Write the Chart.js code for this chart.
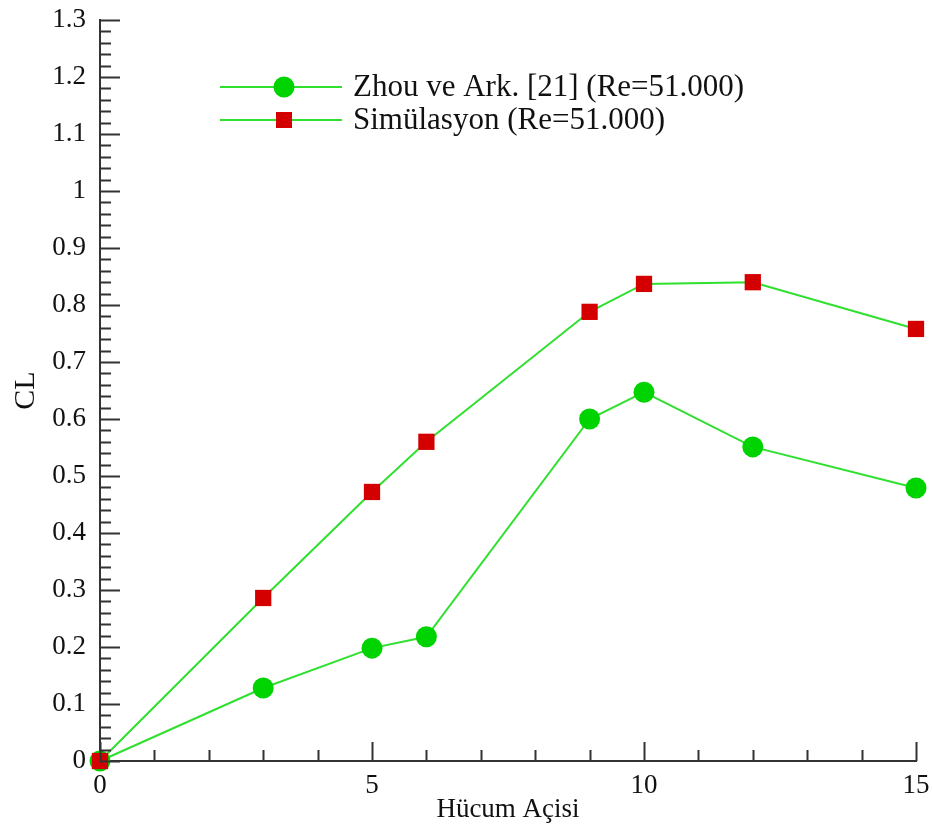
<!DOCTYPE html>
<html>
<head>
<meta charset="utf-8">
<script src="https://cdn.jsdelivr.net/npm/chart.js@4.4.1/dist/chart.umd.min.js"></script>
<style>
  html, body { margin: 0; padding: 0; background: #fff; }
  #wrap { width: 933px; height: 830px; }
</style>
</head>
<body>
<div id="wrap"><canvas id="clChart" width="933" height="830"></canvas></div>
<script>
// angle of attack (deg) and lift coefficient for both series
const angles = [0, 3, 5, 6, 9, 10, 12, 15];
const zhouCL = [0, 0.128, 0.198, 0.218, 0.6, 0.647, 0.551, 0.479];
const simCL = [0, 0.286, 0.472, 0.56, 0.788, 0.837, 0.84, 0.758];
const seriesNames = ['Zhou ve Ark. [21] (Re=51.000)', 'Simülasyon (Re=51.000)'];

const lineGreen = '#2fe02f';
const dotGreen = '#00d400';
const boxRed = '#d40000';
const axisColor = '#333333';
const serif = '"Liberation Serif", "Times New Roman", serif';

function pts(ys) {
  return angles.map((a, i) => ({ x: a, y: ys[i] }));
}

// inward ticks: major + minor, drawn on the axis scales
const innerTicks = {
  id: 'innerTicks',
  afterDraw(chart) {
    const c = chart.ctx;
    const xs = chart.scales.x, ys = chart.scales.y;
    const area = chart.chartArea;
    c.save();
    c.strokeStyle = axisColor;
    c.lineWidth = 2;
    c.beginPath();
    for (let v = 0; v <= 15; v++) {
      const px = Math.round(xs.getPixelForValue(v)) + 0.5;
      const len = v % 5 === 0 ? 19 : 11;
      c.moveTo(px, area.bottom);
      c.lineTo(px, area.bottom - len);
    }
    for (let k = 0; k <= 65; k++) {
      const py = Math.round(ys.getPixelForValue(k * 0.02)) + 0.5;
      const len = k % 5 === 0 ? 20 : 11;
      c.moveTo(area.left, py);
      c.lineTo(area.left + len, py);
    }
    c.stroke();
    c.restore();
  }
};

// legend box inside the plot
const innerLegend = {
  id: 'innerLegend',
  afterDraw(chart) {
    const c = chart.ctx;
    const rows = [
      { y: 87, shape: 'circle', fill: dotGreen },
      { y: 120, shape: 'rect', fill: boxRed }
    ];
    c.save();
    rows.forEach((r, i) => {
      c.strokeStyle = lineGreen;
      c.lineWidth = 2;
      c.beginPath();
      c.moveTo(220, r.y);
      c.lineTo(342, r.y);
      c.stroke();
      c.fillStyle = r.fill;
      if (r.shape === 'circle') {
        c.beginPath();
        c.arc(284, r.y, 10.5, 0, Math.PI * 2);
        c.fill();
      } else {
        c.fillRect(276, r.y - 8, 16, 16);
      }
      c.fillStyle = '#111';
      c.font = '31px ' + serif;
      c.textBaseline = 'middle';
      c.fillText(seriesNames[i], 353, r.y + 1);
    });
    c.restore();
  }
};

const ctx = document.getElementById('clChart');

new Chart(ctx, {
  type: 'line',
  data: {
    datasets: [{
      label: seriesNames[0],
      data: pts(zhouCL),
      borderColor: lineGreen,
      borderWidth: 2,
      backgroundColor: dotGreen,
      pointBackgroundColor: dotGreen,
      pointBorderWidth: 0,
      pointRadius: 10.5,
      pointStyle: 'circle',
      clip: false,
      order: 2
    }, {
      label: seriesNames[1],
      data: pts(simCL),
      borderColor: lineGreen,
      borderWidth: 2,
      backgroundColor: boxRed,
      pointBackgroundColor: boxRed,
      pointBorderWidth: 0,
      pointRadius: 11.5,
      pointStyle: 'rect',
      clip: false,
      order: 1
    }]
  },
  options: {
    responsive: false,
    animation: false,
    events: [],
    layout: { padding: { top: 20, right: 17, left: 0, bottom: 0 } },
    plugins: {
      legend: { display: false },
      tooltip: { enabled: false }
    },
    scales: {
      x: {
        type: 'linear',
        min: 0,
        max: 15,
        afterFit(scale) {
          scale.height = 69;
          scale.paddingLeft = 0;
          scale.paddingRight = 0;
        },
        grid: { display: false, drawTicks: false },
        border: { display: true, color: axisColor, width: 2 },
        ticks: {
          stepSize: 5,
          padding: 9,
          color: '#111',
          font: { family: serif, size: 27 }
        },
        title: {
          display: true,
          text: 'Hücum Açisi',
          color: '#111',
          font: { family: serif, size: 27 },
          padding: { top: 0, bottom: 4 }
        }
      },
      y: {
        type: 'linear',
        min: 0,
        max: 1.3,
        afterFit(scale) {
          scale.width = 100;
          scale.paddingTop = 0;
          scale.paddingBottom = 0;
        },
        grid: { display: false, drawTicks: false },
        border: { display: true, color: axisColor, width: 2 },
        ticks: {
          stepSize: 0.1,
          padding: 14,
          color: '#111',
          font: { family: serif, size: 27 },
          callback: v => String(Number(v.toFixed(2)))
        },
        title: {
          display: true,
          text: 'CL',
          color: '#111',
          font: { family: serif, size: 30 },
          padding: { top: 8, bottom: 0 }
        }
      }
    }
  },
  plugins: [innerTicks, innerLegend]
});
</script>
</body>
</html>
